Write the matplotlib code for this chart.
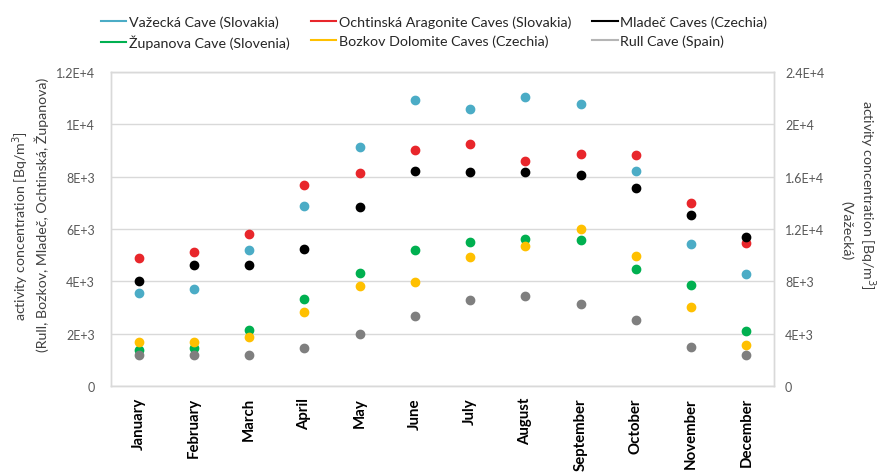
import matplotlib
matplotlib.use("Agg")
import matplotlib.pyplot as plt
from matplotlib.lines import Line2D
from matplotlib.ticker import FixedLocator, FixedFormatter

plt.rcParams['font.family'] = ['Lato', 'DejaVu Sans']

months = ["January", "February", "March", "April", "May", "June", "July",
          "August", "September", "October", "November", "December"]

vazecka = [7130, 7410, 10400, 13760, 18240, 21830, 21200, 22060, 21580, 16410, 10850, 8560]
ochtinska = [4880, 5110, 5810, 7670, 8130, 9030, 9250, 8610, 8880, 8840, 6990, 5450]
mladec = [4000, 4620, 4620, 5240, 6840, 8200, 8170, 8170, 8060, 7570, 6540, 5710]
zupanova = [1380, 1440, 2140, 3330, 4310, 5210, 5490, 5630, 5590, 4480, 3870, 2100]
bozkov = [1690, 1670, 1890, 2840, 3810, 3960, 4920, 5340, 5990, 4960, 3030, 1570]
rull = [1170, 1200, 1170, 1450, 1990, 2680, 3300, 3450, 3130, 2540, 1490, 1170]

left_ticks = [0, 2000, 4000, 6000, 8000, 10000, 12000]
left_labels = ["0", "2E+3", "4E+3", "6E+3", "8E+3", "1E+4", "1.2E+4"]
right_ticks = [0, 4000, 8000, 12000, 16000, 20000, 24000]
right_labels = ["0", "4E+3", "8E+3", "1.2E+4", "1.6E+4", "2E+4", "2.4E+4"]

c_vaz = "#4bacc6"
c_och = "#e8262b"
c_mla = "#000000"
c_zup = "#00b050"
c_boz = "#ffc000"
c_rull = "#7f7f7f"
c_rull_leg = "#b5b5b5"
tick_col = "#595959"
grid_col = "#d9d9d9"
label_col = "#404040"

W, H = 877, 477
fig = plt.figure(figsize=(W/100, H/100), dpi=100)
ax = fig.add_axes([111/W, 1-387/H, (774-111)/W, (387-73)/H])
ax2 = ax.twinx()

x = list(range(len(months)))
ms = 6
ax.plot(x, ochtinska, 'o', color=c_och, ms=ms, zorder=3)
ax.plot(x, mladec, 'o', color=c_mla, ms=ms, zorder=3)
ax.plot(x, zupanova, 'o', color=c_zup, ms=ms, zorder=3)
ax.plot(x, bozkov, 'o', color=c_boz, ms=ms, zorder=3)
ax.plot(x, rull, 'o', color=c_rull, ms=ms, zorder=3)
ax2.plot(x, vazecka, 'o', color=c_vaz, ms=ms, zorder=3)

ax.set_xlim(-0.5, 11.5)
ax.set_ylim(0, 12000)
ax2.set_ylim(0, 24000)

ax.yaxis.set_major_locator(FixedLocator(left_ticks))
ax.yaxis.set_major_formatter(FixedFormatter(left_labels))
ax2.yaxis.set_major_locator(FixedLocator(right_ticks))
ax2.yaxis.set_major_formatter(FixedFormatter(right_labels))

ax.set_xticks(x)
ax.set_xticklabels(months, rotation=90, fontweight='bold', fontsize=10.8, color='#000000')
ax.tick_params(axis='x', length=0, pad=8)
ax.tick_params(axis='y', length=0, labelsize=9, labelcolor=tick_col, pad=11.5)
ax2.tick_params(axis='y', length=0, labelsize=9, labelcolor=tick_col, pad=8)

ax.grid(axis='y', color=grid_col, lw=1)
ax.set_axisbelow(True)
for a in (ax, ax2):
    for s in a.spines.values():
        s.set_color(grid_col)
        s.set_linewidth(1)

# axis titles
fs_t = 10.2
fig.text(21/W, 1-226/H, "activity concentration [Bq/m$^3$]", rotation=90,
         ha='center', va='center', fontsize=fs_t, color=label_col)
fig.text(42/W, 1-215/H, "(Rull, Bozkov, Mladeč, Ochtinská, Županova)", rotation=90,
         ha='center', va='center', fontsize=fs_t, color=label_col)
fig.text(867/W, 1-195/H, "activity concentration [Bq/m$^3$]", rotation=270,
         ha='center', va='center', fontsize=fs_t, color=label_col)
fig.text(847/W, 1-231/H, "(Važecká)", rotation=270,
         ha='center', va='center', fontsize=fs_t, color=label_col)

handles = [
    Line2D([], [], color=c_vaz, lw=1.5),
    Line2D([], [], color=c_zup, lw=1.5),
    Line2D([], [], color=c_och, lw=1.5),
    Line2D([], [], color=c_boz, lw=1.5),
    Line2D([], [], color=c_mla, lw=1.5),
    Line2D([], [], color=c_rull_leg, lw=1.5),
]
labels = ["Važecká Cave (Slovakia)", "Županova Cave (Slovenia)",
          "Ochtinská Aragonite Caves (Slovakia)", "Bozkov Dolomite Caves (Czechia)",
          "Mladeč Caves (Czechia)", "Rull Cave (Spain)"]
fig.legend(handles, labels, ncol=3, loc='center', bbox_to_anchor=(434/W, 1-33/H),
           frameon=False, fontsize=10.3, handlelength=1.8, handletextpad=0.15,
           columnspacing=1.5, labelspacing=0.45, labelcolor='#262626',
           borderaxespad=0, borderpad=0)

fig.savefig("out.png", dpi=100)
